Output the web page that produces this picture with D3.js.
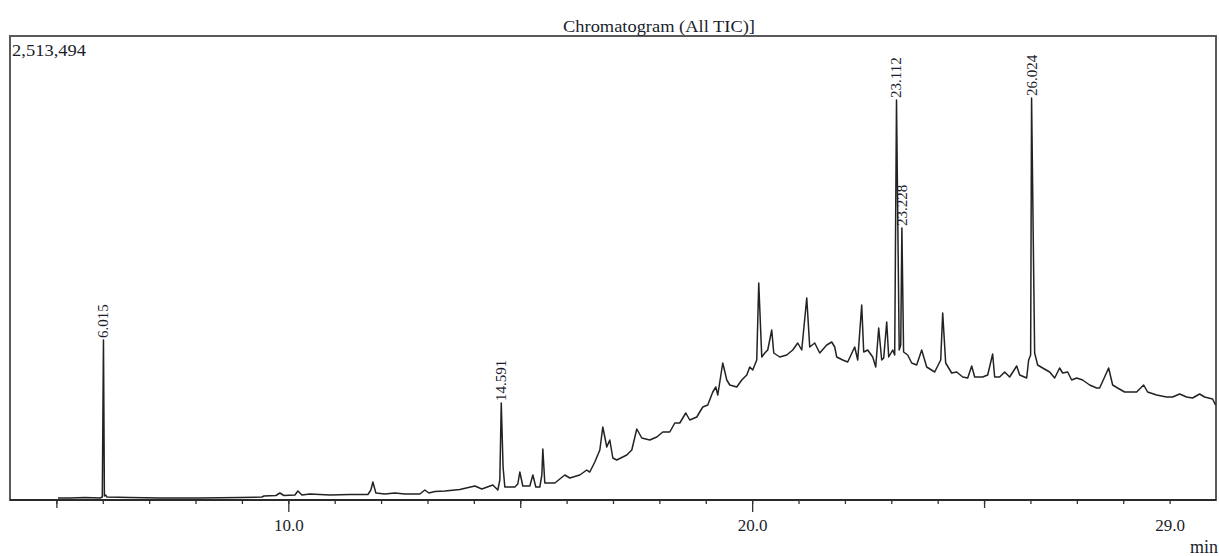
<!DOCTYPE html>
<html>
<head>
<meta charset="utf-8">
<script src="https://cdn.jsdelivr.net/npm/d3@7/dist/d3.min.js"></script>
<style>
  html, body { margin: 0; padding: 0; background: #fff; }
  svg { display: block; }
  text { font-family: "Liberation Serif", "DejaVu Serif", serif; fill: #1a1e2c; }
</style>
</head>
<body>
<svg id="chart" width="1219" height="556"></svg>
<script>
// ---- data (retention time in min, intensity in counts) ----
const title = "Chromatogram (All TIC)]";
const yMaxLabel = "2,513,494";
const xUnit = "min";
const timeDomain = [4.0, 30.0];
const intensityMax = 2513494;

const times = [
  5.034, 5.293, 5.616, 5.940, 5.990, 6.015, 6.035, 6.060, 6.090, 6.586,
  7.233, 8.095, 8.957, 9.431, 9.474, 9.733, 9.819, 9.905, 10.142, 10.207,
  10.293, 10.466, 10.897, 11.328, 11.716, 11.780, 11.823, 11.888, 12.082, 12.297,
  12.513, 12.836, 12.944, 13.030, 13.159, 13.375, 13.698, 14.022, 14.172, 14.409,
  14.517, 14.560, 14.591, 14.630, 14.668, 14.884, 14.948, 14.991, 15.056, 15.207,
  15.272, 15.336, 15.422, 15.466, 15.487, 15.530, 15.746, 15.961, 16.069, 16.284,
  16.435, 16.500, 16.608, 16.716, 16.780, 16.866, 16.931, 16.996, 17.082, 17.297,
  17.405, 17.513, 17.621, 17.793, 17.944, 18.073, 18.224, 18.332, 18.440, 18.569,
  18.655, 18.806, 18.935, 19.043, 19.151, 19.216, 19.259, 19.366, 19.453, 19.517,
  19.668, 19.776, 19.884, 19.948, 20.013, 20.099, 20.142, 20.207, 20.272, 20.336,
  20.422, 20.466, 20.595, 20.746, 20.875, 20.983, 21.069, 21.177, 21.241, 21.349,
  21.457, 21.608, 21.716, 21.780, 21.823, 21.953, 22.060, 22.211, 22.276, 22.362,
  22.405, 22.491, 22.599, 22.664, 22.728, 22.793, 22.836, 22.901, 22.944, 23.030,
  23.073, 23.112, 23.170, 23.203, 23.228, 23.265, 23.353, 23.440, 23.547, 23.655,
  23.763, 23.935, 24.065, 24.108, 24.172, 24.302, 24.409, 24.539, 24.647, 24.733,
  24.797, 24.970, 25.078, 25.185, 25.228, 25.336, 25.444, 25.552, 25.703, 25.767,
  25.918, 25.961, 26.004, 26.024, 26.090, 26.155, 26.263, 26.414, 26.522, 26.629,
  26.694, 26.802, 26.888, 26.996, 27.125, 27.276, 27.427, 27.491, 27.599, 27.685,
  27.772, 27.879, 28.030, 28.289, 28.440, 28.526, 28.720, 28.935, 29.065, 29.216,
  29.366, 29.496, 29.647, 29.754, 29.927, 29.990
];
const intensities = [
  10834, 10834, 13543, 10834, 16251, 866720, 21668, 27085, 16251, 13543,
  10834, 10834, 13543, 16251, 21668, 24377, 37919, 24377, 27085, 48753,
  27085, 32502, 27085, 29794, 29794, 54170, 97506, 37919, 32502, 37919,
  32502, 32502, 54170, 37919, 46045, 48753, 56879, 75838, 59587, 81255,
  54170, 108340, 525449, 178761, 70421, 70421, 86672, 151676, 75838, 75838,
  135425, 70421, 70421, 135425, 276267, 92089, 92089, 135425, 119174, 135425,
  162510, 151676, 205846, 270850, 395441, 287101, 325020, 227514, 216680, 243765,
  270850, 384607, 335854, 325020, 341271, 368356, 368356, 417109, 417109, 471279,
  433360, 449611, 503781, 514615, 585036, 612121, 568785, 742129, 650040, 622955,
  612121, 650040, 677125, 720461, 704210, 758380, 1175489, 774631, 796299, 812550,
  920890, 796299, 774631, 785465, 812550, 850469, 812550, 1094234, 828801, 850469,
  796299, 839635, 855886, 828801, 774631, 758380, 747546, 828801, 758380, 1056315,
  801716, 812550, 774631, 720461, 931724, 758380, 769214, 964226, 774631, 812550,
  785465, 2166800, 812550, 839635, 1473424, 801716, 785465, 742129, 731295, 812550,
  720461, 693376, 758380, 1012979, 742129, 687959, 693376, 666291, 660874, 725878,
  666291, 666291, 677125, 790882, 666291, 666291, 693376, 666291, 725878, 677125,
  660874, 758380, 785465, 2177634, 796299, 731295, 715044, 693376, 660874, 715044,
  687959, 693376, 650040, 660874, 650040, 622955, 606704, 606704, 666291, 715044,
  622955, 606704, 585036, 585036, 622955, 585036, 568785, 557951, 557951, 574202,
  557951, 552534, 574202, 557951, 547117, 514625
];

const peakTimes = [6.015, 14.591, 23.112, 23.228, 26.024];
const peakLabels = ["6.015", "14.591", "23.112", "23.228", "26.024"];

const minorTicks = d3.range(5, 30);
const mediumTicks = [5, 15, 25];
const majorTicks = [10, 20];
const labelTicks = [10, 20, 29];

// ---- drawing ----
const svg = d3.select("#chart");
const plot = { left: 10, right: 1216, top: 36, bottom: 500 };

const x = d3.scaleLinear().domain(timeDomain).range([plot.left, plot.right]);
const y = d3.scaleLinear().domain([0, intensityMax]).range([plot.bottom, plot.top]);

const points = times.map((t, i) => ({ t, v: intensities[i] }));

// frame
svg.append("rect")
  .attr("x", plot.left).attr("y", plot.top)
  .attr("width", plot.right - plot.left).attr("height", plot.bottom - plot.top)
  .attr("fill", "none").attr("stroke", "#5a5a5a").attr("stroke-width", 2);

// title
svg.append("text")
  .attr("x", 659).attr("y", 32)
  .attr("text-anchor", "middle")
  .attr("font-size", 17)
  .attr("textLength", 192).attr("lengthAdjust", "spacingAndGlyphs")
  .text(title);

// y max label
svg.append("text")
  .attr("x", 12).attr("y", 56)
  .attr("font-size", 17)
  .attr("textLength", 74).attr("lengthAdjust", "spacingAndGlyphs")
  .text(yMaxLabel);

// axes
const axisG = svg.append("g").attr("transform", `translate(0,${plot.bottom})`);
function tickAxis(vals, size) {
  const g = axisG.append("g").call(
    d3.axisBottom(x).tickValues(vals).tickSize(size).tickFormat(() => "")
  );
  g.select(".domain").remove();
  g.selectAll(".tick line").attr("stroke", "#333").attr("stroke-width", 1.3);
  return g;
}
tickAxis(minorTicks, 4);
tickAxis(mediumTicks, 8);
tickAxis(majorTicks, 12);
const lab = axisG.append("g").call(
  d3.axisBottom(x).tickValues(labelTicks).tickSize(0).tickPadding(19).tickFormat(d3.format(".1f"))
);
lab.select(".domain").remove();
lab.selectAll("text").attr("font-size", 17).attr("font-family", '"Liberation Serif", serif').attr("fill", "#1a1e2c");

// bottom axis line
axisG.append("line")
  .attr("x1", plot.left).attr("x2", plot.right)
  .attr("stroke", "#2a2a2a").attr("stroke-width", 2);

svg.append("text")
  .attr("x", 1218).attr("y", 553)
  .attr("text-anchor", "end")
  .attr("font-size", 18)
  .text(xUnit);

// trace
const line = d3.line().x(d => x(d.t)).y(d => y(d.v));
svg.append("path")
  .datum(points)
  .attr("d", line)
  .attr("fill", "none")
  .attr("stroke", "#222")
  .attr("stroke-width", 1.5)
  .attr("stroke-linejoin", "round");

// peak labels
peakTimes.forEach((pt, i) => {
  const idx = times.indexOf(pt);
  const v = intensities[idx];
  svg.append("text")
    .attr("transform", `translate(${x(pt)},${y(v) - 2}) rotate(-90)`)
    .attr("text-anchor", "start")
    .attr("dy", "0.33em")
    .attr("font-size", 15)
    .text(peakLabels[i]);
});
</script>
</body>
</html>
